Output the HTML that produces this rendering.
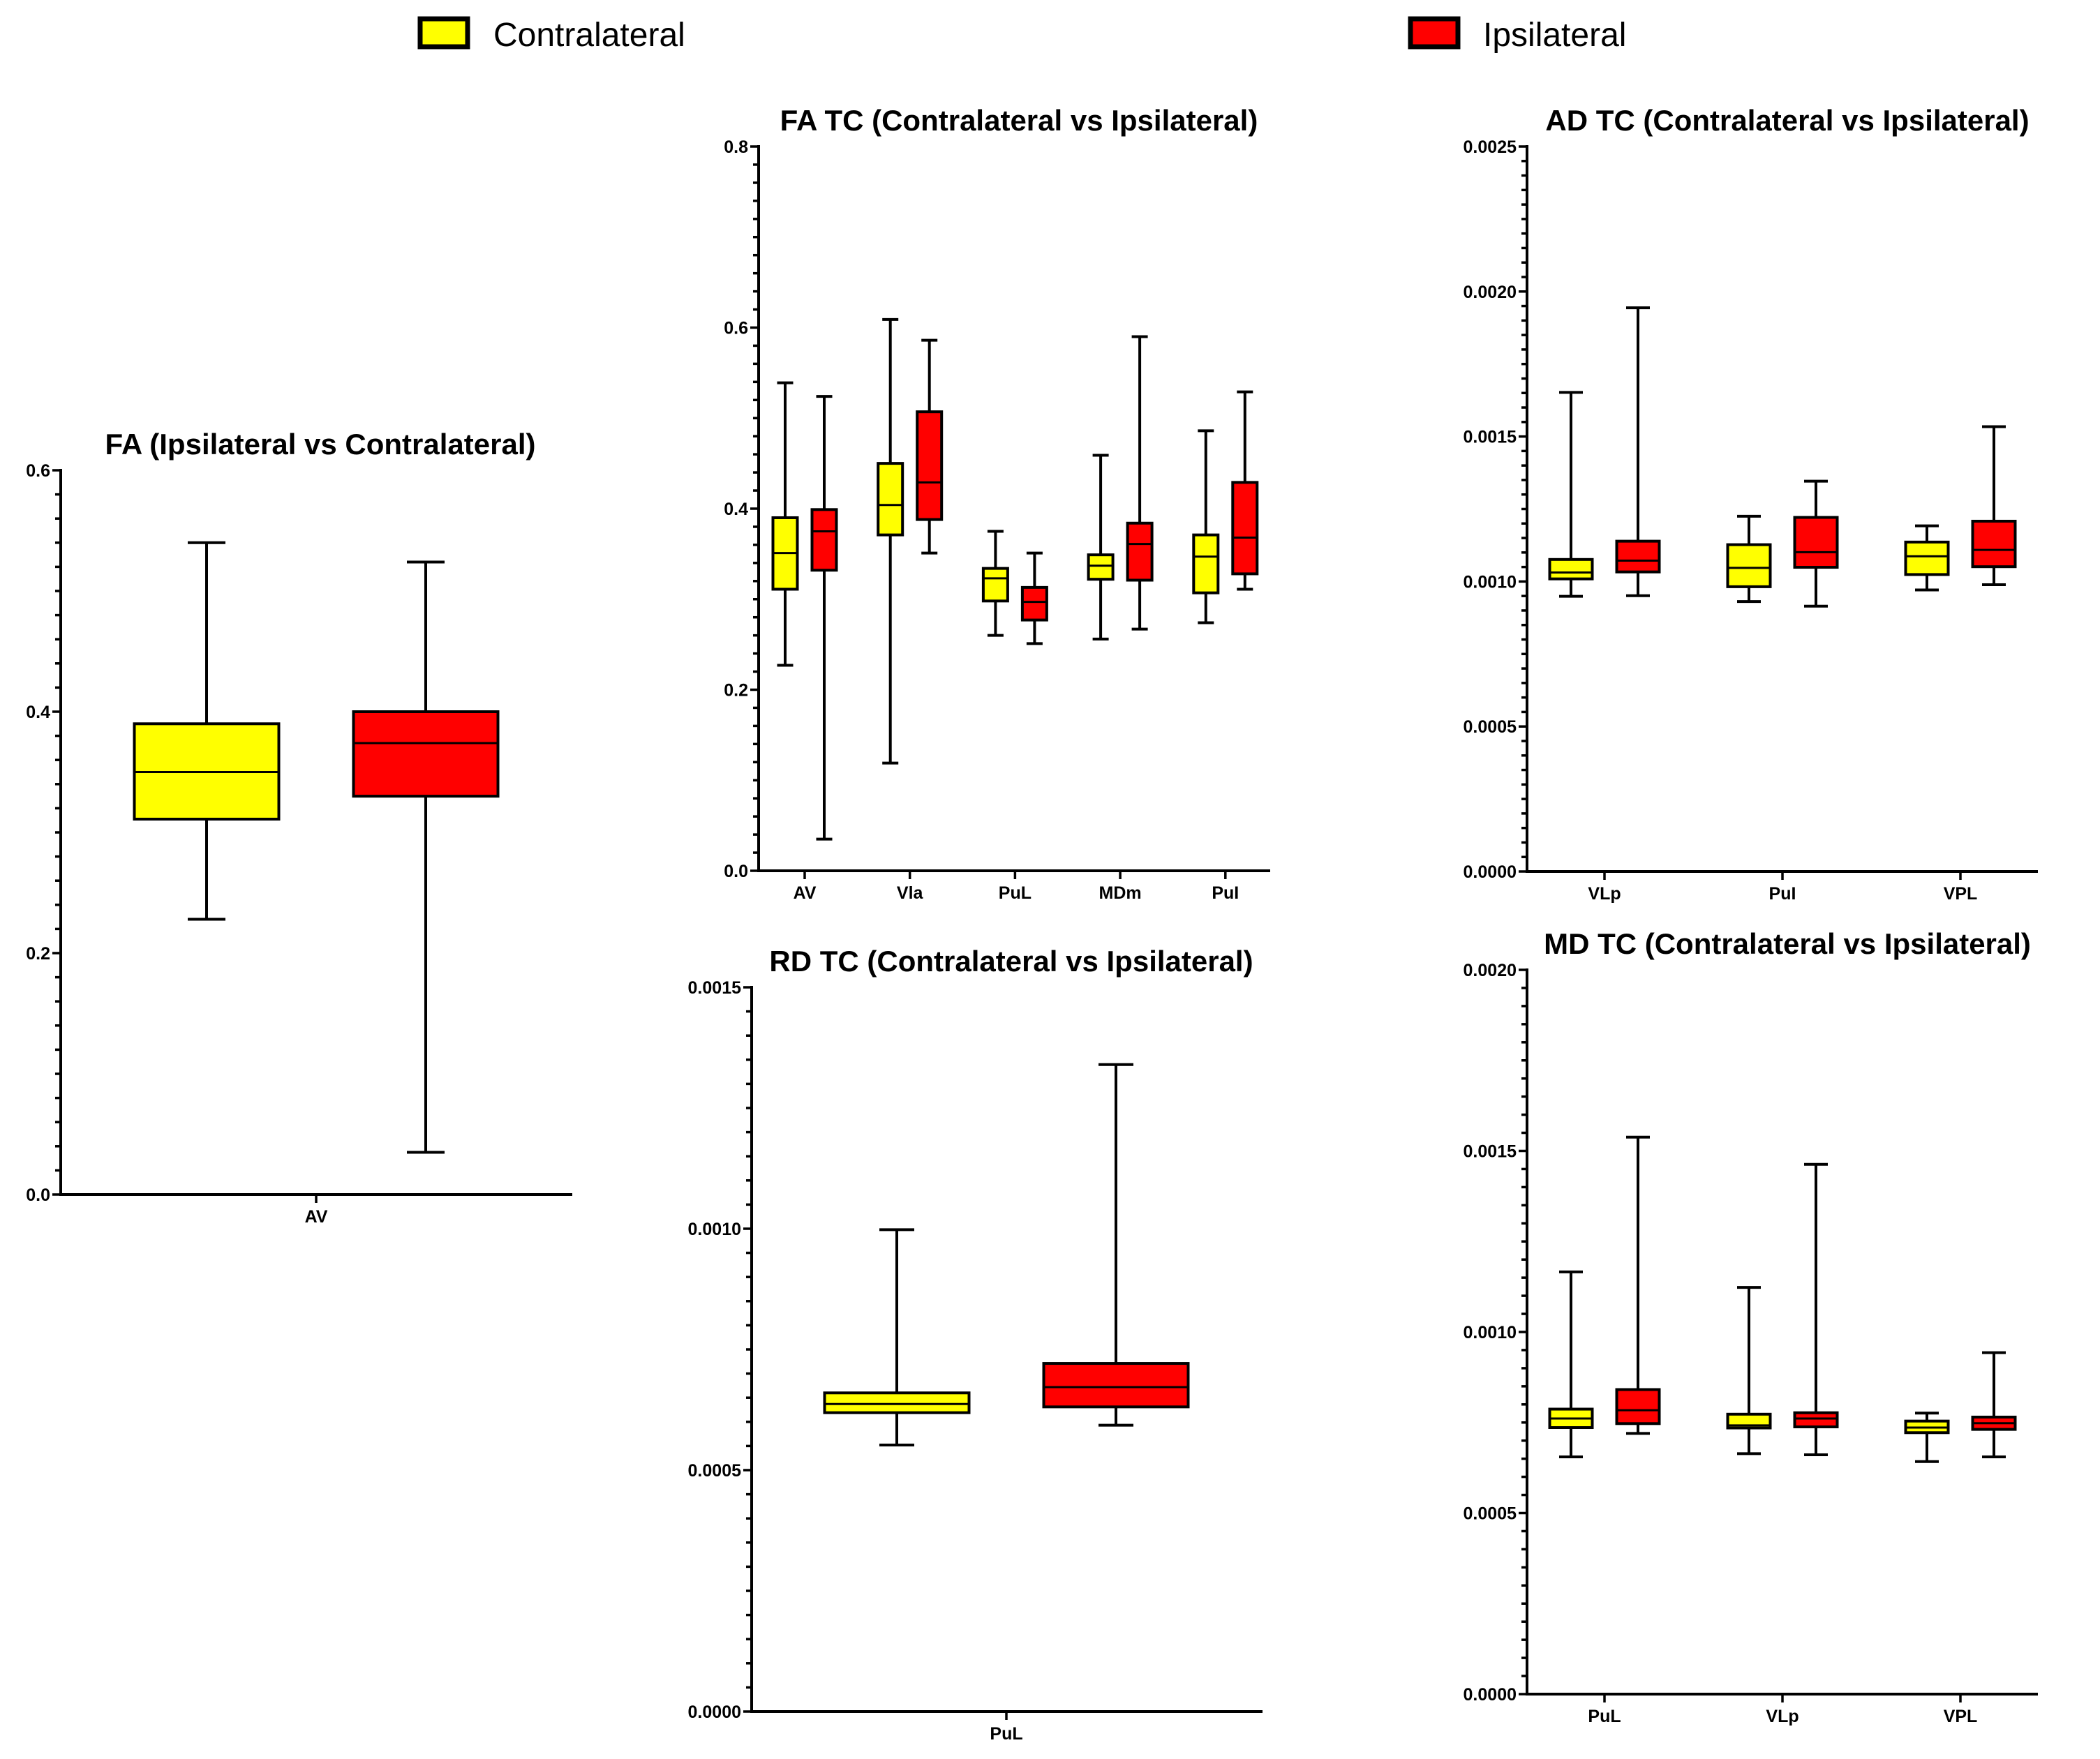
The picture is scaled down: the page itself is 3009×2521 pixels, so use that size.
<!DOCTYPE html>
<html><head><meta charset="utf-8">
<style>
html,body{margin:0;padding:0;background:#fff;}
svg{display:block;font-family:"Liberation Sans",Arial,sans-serif;}
</style></head>
<body>
<svg id="fig" width="3009" height="2521" viewBox="0 0 3009 2521" xmlns="http://www.w3.org/2000/svg">
  <g>
    <g>
      <rect x="602" y="27" width="68" height="40" fill="#ffff00" stroke="#000" stroke-width="7"/>
      <text x="707" y="66" font-size="48">Contralateral</text>
    </g>
    <g>
      <rect x="2021" y="27" width="68" height="40" fill="#ff0000" stroke="#000" stroke-width="7"/>
      <text x="2125" y="66" font-size="48">Ipsilateral</text>
    </g>
  </g>
</svg>
<script>
// ---- Panel 1: FA (Ipsilateral vs Contralateral)
const faCats = ["AV"];
const faYMin = [0.228]; const faYQ1 = [0.311]; const faYMed = [0.350]; const faYQ3 = [0.390]; const faYMax = [0.540];
const faRMin = [0.035]; const faRQ1 = [0.330]; const faRMed = [0.374]; const faRQ3 = [0.400]; const faRMax = [0.524];
const faTicks = ["0.0","0.2","0.4","0.6"];

// ---- Panel 2: FA TC
const fatcCats = ["AV","Vla","PuL","MDm","PuI"];
const fatcYMin = [0.227,0.119,0.260,0.256,0.274];
const fatcYQ1  = [0.311,0.371,0.298,0.322,0.307];
const fatcYMed = [0.351,0.404,0.323,0.337,0.347];
const fatcYQ3  = [0.390,0.450,0.334,0.349,0.371];
const fatcYMax = [0.539,0.609,0.375,0.459,0.486];
const fatcRMin = [0.035,0.351,0.251,0.267,0.311];
const fatcRQ1  = [0.332,0.388,0.277,0.321,0.328];
const fatcRMed = [0.375,0.429,0.297,0.361,0.368];
const fatcRQ3  = [0.399,0.507,0.313,0.384,0.429];
const fatcRMax = [0.524,0.586,0.351,0.590,0.529];
const fatcTicks = ["0.0","0.2","0.4","0.6","0.8"];

// ---- Panel 3: AD TC
const adCats = ["VLp","PuI","VPL"];
const adYMin = [0.000949,0.000931,0.000971];
const adYQ1  = [0.001009,0.000982,0.001024];
const adYMed = [0.001031,0.001047,0.001087];
const adYQ3  = [0.001076,0.001127,0.001136];
const adYMax = [0.001652,0.001225,0.001192];
const adRMin = [0.000951,0.000915,0.000989];
const adRQ1  = [0.001033,0.001049,0.001051];
const adRMed = [0.001072,0.001101,0.001109];
const adRQ3  = [0.001139,0.001221,0.001208];
const adRMax = [0.001944,0.001346,0.001534];
const adTicks = ["0.0000","0.0005","0.0010","0.0015","0.0020","0.0025"];

// ---- Panel 4: RD TC
const rdCats = ["PuL"];
const rdYMin = [0.000552]; const rdYQ1 = [0.000619]; const rdYMed = [0.000637]; const rdYQ3 = [0.000660]; const rdYMax = [0.000998];
const rdRMin = [0.000593]; const rdRQ1 = [0.000631]; const rdRMed = [0.000672]; const rdRQ3 = [0.000721]; const rdRMax = [0.001340];
const rdTicks = ["0.0000","0.0005","0.0010","0.0015"];

// ---- Panel 5: MD TC
const mdCats = ["PuL","VLp","VPL"];
const mdYMin = [0.000655,0.000664,0.000642];
const mdYQ1  = [0.000736,0.000735,0.000722];
const mdYMed = [0.000761,0.000742,0.000736];
const mdYQ3  = [0.000787,0.000773,0.000754];
const mdYMax = [0.001166,0.001123,0.000776];
const mdRMin = [0.000720,0.000661,0.000655];
const mdRQ1  = [0.000747,0.000738,0.000731];
const mdRMed = [0.000784,0.000761,0.000748];
const mdRQ3  = [0.000841,0.000777,0.000765];
const mdRMax = [0.001538,0.001463,0.000943];
const mdTicks = ["0.0000","0.0005","0.0010","0.0015","0.0020"];

const NS = "http://www.w3.org/2000/svg";
const svg = document.getElementById("fig");
function mk(tag, attrs, parent){
  const e = document.createElementNS(NS, tag);
  for (const k in attrs) e.setAttribute(k, attrs[k]);
  parent.appendChild(e);
  return e;
}

function drawPanel(p){
  const g = mk("g", {}, svg);
  
  
  const yMax = parseFloat(p.ticks[p.ticks.length-1]);
  const ys = v => p.bottom - (v / yMax) * (p.bottom - p.top);
  const xc = i => p.c0 + i * p.step;

  const t = mk("text", {x: p.titleX, y: p.top - 23, "font-size": 42, "font-weight": "bold", "text-anchor": "middle"}, g);
  t.textContent = p.title;
  
  

  const nMinor = (p.ticks.length - 1) * 10;
  for (let k = 0; k <= nMinor; k++){
    const v = yMax * k / nMinor;
    const major = k % 10 === 0;
    const tk = mk("line", {x1: p.ax - (major ? 12 : 8), x2: p.ax, y1: ys(v), y2: ys(v), stroke: "#000", "stroke-width": 3.5}, g);
    
    
  }
  p.ticks.forEach((lab, k) => {
    const v = yMax * k / (p.ticks.length - 1);
    const tl = mk("text", {x: p.ax - 15, y: ys(v) + 9, "font-size": 25, "font-weight": "bold", "text-anchor": "end"}, g);
    tl.textContent = lab;
    
    
  });
  const ya = mk("line", {x1: p.ax, x2: p.ax, y1: p.top - 2, y2: p.bottom + 2, stroke: "#000", "stroke-width": 4}, g);
  
  
  const xa = mk("line", {x1: p.ax - 2, x2: p.right, y1: p.bottom, y2: p.bottom, stroke: "#000", "stroke-width": 4}, g);
  
  

  p.cats.forEach((c, i) => {
    const ct = mk("line", {x1: xc(i), x2: xc(i), y1: p.bottom, y2: p.bottom + 12, stroke: "#000", "stroke-width": 3.5}, g);
    
    
    const cl = mk("text", {x: xc(i), y: p.bottom + 40, "font-size": 25, "font-weight": "bold", "text-anchor": "middle"}, g);
    cl.textContent = c;
    
    

    [["contralateral", "#ffff00", -p.off, p.Y], ["ipsilateral", "#ff0000", p.off, p.R]].forEach(s => {
      const [sname, col, dx, d] = s;
      const cx = xc(i) + dx;
      const bg = mk("g", {}, g);
      
      
      const w1 = mk("line", {x1: cx, x2: cx, y1: ys(d[4][i]), y2: ys(d[0][i]), stroke: "#000", "stroke-width": 4}, bg);
      
      
      [0, 4].forEach(j => {
        const cap = mk("line", {x1: cx - p.cap/2, x2: cx + p.cap/2, y1: ys(d[j][i]), y2: ys(d[j][i]), stroke: "#000", "stroke-width": 4}, bg);
        
        
      });
      const r = mk("rect", {x: cx - p.bw/2, y: ys(d[3][i]), width: p.bw, height: ys(d[1][i]) - ys(d[3][i]), fill: col, stroke: "#000", "stroke-width": 4}, bg);
      
      
      const m = mk("line", {x1: cx - p.bw/2, x2: cx + p.bw/2, y1: ys(d[2][i]), y2: ys(d[2][i]), stroke: "#000", "stroke-width": 3}, bg);
      
      
    });
  });
}

drawPanel({name: "fa-chart", title: "FA (Ipsilateral vs Contralateral)", titleX: 459,
  ax: 87, right: 820, top: 674, bottom: 1712, c0: 453, step: 0, off: 157, bw: 207, cap: 54,
  cats: faCats, ticks: faTicks,
  Y: [faYMin, faYQ1, faYMed, faYQ3, faYMax], R: [faRMin, faRQ1, faRMed, faRQ3, faRMax]});

drawPanel({name: "fa-tc-chart", title: "FA TC (Contralateral vs Ipsilateral)", titleX: 1460,
  ax: 1087, right: 1820, top: 210, bottom: 1248, c0: 1153, step: 150.7, off: 28, bw: 35, cap: 23,
  cats: fatcCats, ticks: fatcTicks,
  Y: [fatcYMin, fatcYQ1, fatcYMed, fatcYQ3, fatcYMax], R: [fatcRMin, fatcRQ1, fatcRMed, fatcRQ3, fatcRMax]});

drawPanel({name: "ad-tc-chart", title: "AD TC (Contralateral vs Ipsilateral)", titleX: 2561,
  ax: 2188, right: 2920, top: 210, bottom: 1249, c0: 2299, step: 255, off: 48, bw: 61, cap: 34,
  cats: adCats, ticks: adTicks,
  Y: [adYMin, adYQ1, adYMed, adYQ3, adYMax], R: [adRMin, adRQ1, adRMed, adRQ3, adRMax]});

drawPanel({name: "rd-tc-chart", title: "RD TC (Contralateral vs Ipsilateral)", titleX: 1449,
  ax: 1077, right: 1809, top: 1415, bottom: 2453, c0: 1442, step: 0, off: 157, bw: 207, cap: 50,
  cats: rdCats, ticks: rdTicks,
  Y: [rdYMin, rdYQ1, rdYMed, rdYQ3, rdYMax], R: [rdRMin, rdRQ1, rdRMed, rdRQ3, rdRMax]});

drawPanel({name: "md-tc-chart", title: "MD TC (Contralateral vs Ipsilateral)", titleX: 2561,
  ax: 2188, right: 2920, top: 1390, bottom: 2428, c0: 2299, step: 255, off: 48, bw: 61, cap: 34,
  cats: mdCats, ticks: mdTicks,
  Y: [mdYMin, mdYQ1, mdYMed, mdYQ3, mdYMax], R: [mdRMin, mdRQ1, mdRMed, mdRQ3, mdRMax]});
</script>
</body></html>
